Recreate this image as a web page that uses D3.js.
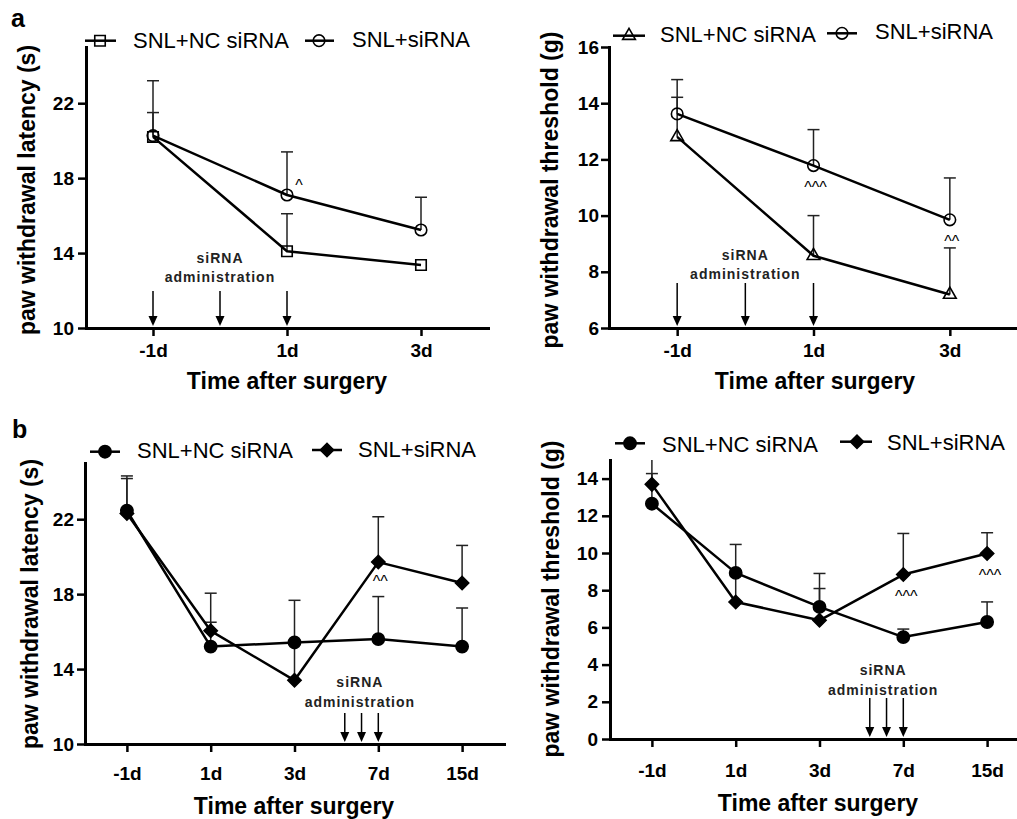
<!DOCTYPE html>
<html>
<head>
<meta charset="utf-8">
<script src="https://cdn.jsdelivr.net/npm/d3@7"></script>
<style>
body{margin:0;background:#fff;}
svg{display:block;font-family:Arial,"Liberation Sans",sans-serif;}
</style>
</head>
<body>
<div id="chart"></div>
<script>
// categories
var daysA = ["-1d", "1d", "3d"]
var daysB = ["-1d", "1d", "3d", "7d", "15d"]
var groupNames = ["SNL+NC siRNA", "SNL+siRNA"]

// a, latency (s)  -- *_top = upper end of the SEM bar
var latA_nc = [20.2, 14.1, 13.36]
var latA_nc_top = [21.5, 16.1, null]
var latA_si = [20.27, 17.1, 15.23]
var latA_si_top = [23.2, 19.4, 16.98]
var latA_sig = ["", "^", ""]

// a, threshold (g)
var thrA_nc = [12.8, 8.57, 7.19]
var thrA_nc_top = [14.21, 10.0, 8.85]
var thrA_si = [13.62, 11.78, 9.85]
var thrA_si_top = [14.84, 13.06, 11.34]
var thrA_sig = ["", "^^^", "^^"]

// b, latency (s)
var latB_nc = [22.45, 15.2, 15.42, 15.6, 15.2]
var latB_nc_top = [24.17, 16.5, null, 17.87, 17.26]
var latB_si = [22.3, 16.04, 13.4, 19.71, 18.59]
var latB_si_top = [24.31, 18.05, 17.67, 22.13, 20.6]
var latB_sig = ["", "", "", "^^", ""]

// b, threshold (g)
var thrB_nc = [12.65, 8.93, 7.1, 5.48, 6.29]
var thrB_nc_top = [14.27, null, 8.09, 5.91, 7.37]
var thrB_si = [13.69, 7.37, 6.38, 8.84, 9.97]
var thrB_si_top = [15.4, 10.46, 8.9, 11.05, 11.09]
var thrB_sig = ["", "", "", "^^^", "^^^"]

// axis ticks
var yTicksLat = [10, 14, 18, 22]
var yTicksThrA = [6, 8, 10, 12, 14, 16]
var yTicksThrB = [0, 2, 4, 6, 8, 10, 12, 14]

// siRNA injections, in category index units
var arrowsA = [0, 0.5, 1]
var arrowsB = [2.6, 2.8, 3]

var svg = d3.select("#chart")
  .append("svg")
  .attr("width", 1017)
  .attr("height", 819)

var panels = [
  {
    cats: daysA, xRange: [86, 488], yRange: [328, 47], yDomain: [10, 25], yTicks: yTicksLat,
    xPad: 8, yPad: 4,
    series: [
      {v: latA_nc, top: latA_nc_top, m: "square"},
      {v: latA_si, top: latA_si_top, m: "circle"}
    ],
    sig: latA_sig, sigDx: 12, sigDy: -4,
    arrows: arrowsA, arrowLen: 37, adminAt: 0.5, adminOff: [65, 46],
    yLabel: "paw withdrawal latency (s)", yLabelPos: [35, 190],
    titlePos: [287, 389],
    legend: [
      {x1: 85, x2: 116, mx: 100, my: 40.7, tx: 133, ty: 47.5},
      {x1: 305, x2: 334, mx: 319, my: 40.7, tx: 352, ty: 47}
    ]
  },
  {
    cats: daysA, xRange: [609, 1018], yRange: [328, 47], yDomain: [6, 16], yTicks: yTicksThrA,
    xPad: 8, yPad: 2,
    series: [
      {v: thrA_nc, top: thrA_nc_top, m: "triangle"},
      {v: thrA_si, top: thrA_si_top, m: "circle"}
    ],
    sig: thrA_sig, sigDx: 2, sigDy: 27,
    arrows: arrowsA, arrowLen: 45, adminAt: 0.5, adminOff: [68, 49],
    yLabel: "paw withdrawal threshold (g)", yLabelPos: [558, 190],
    titlePos: [815, 389],
    legend: [
      {x1: 613, x2: 645, mx: 629, my: 35.7, tx: 660, ty: 41.5},
      {x1: 827, x2: 857, mx: 842, my: 33.3, tx: 875, ty: 39.3}
    ]
  },
  {
    cats: daysB, xRange: [85, 504], yRange: [744, 463], yDomain: [10, 25], yTicks: yTicksLat,
    xPad: 15, yPad: 3,
    series: [
      {v: latB_nc, top: latB_nc_top, m: "dot"},
      {v: latB_si, top: latB_si_top, m: "diamond"}
    ],
    sig: latB_sig, sigDx: 2, sigDy: 25,
    arrows: arrowsB, arrowLen: 31, adminAt: 2.78, adminOff: [57, 37],
    yLabel: "paw withdrawal latency (s)", yLabelPos: [38, 604],
    titlePos: [294, 814],
    legend: [
      {x1: 90, x2: 120, mx: 105, my: 451.7, tx: 137, ty: 458},
      {x1: 312, x2: 342, mx: 327, my: 450, tx: 358, ty: 456.7}
    ]
  },
  {
    cats: daysB, xRange: [610, 1029], yRange: [739, 460], yDomain: [0, 15], yTicks: yTicksThrB,
    xPad: 17, yPad: 4,
    series: [
      {v: thrB_nc, top: thrB_nc_top, m: "dot"},
      {v: thrB_si, top: thrB_si_top, m: "diamond"}
    ],
    sig: thrB_sig, sigDx: 3, sigDy: 27,
    arrows: arrowsB, arrowLen: 41, adminAt: 2.76, adminOff: [64, 44.5],
    yLabel: "paw withdrawal threshold (g)", yLabelPos: [559, 599],
    titlePos: [818, 811],
    legend: [
      {x1: 615, x2: 645, mx: 630, my: 443.3, tx: 662, ty: 451.7},
      {x1: 840, x2: 872, mx: 857, my: 441.7, tx: 887, ty: 450}
    ]
  }
]

// draw one marker of a given kind at (cx, cy)
function drawMarker(g, kind, cx, cy){
  var p = g.append("path")
  if(kind == "square"){
    p.attr("d", d3.symbol(d3.symbolSquare, 110)).attr("fill", "none")
  }
  else if(kind == "circle"){
    p.attr("d", d3.symbol(d3.symbolCircle, 105)).attr("fill", "none")
  }
  else if(kind == "triangle"){
    p.attr("d", d3.symbol(d3.symbolTriangle, 70)).attr("fill", "none")
  }
  else if(kind == "dot"){
    p.attr("d", d3.symbol(d3.symbolCircle, 118)).attr("fill", "#000")
  }
  else if(kind == "diamond"){
    p.attr("d", d3.symbol(d3.symbolSquare, 88)).attr("fill", "#000")
  }
  p.attr("stroke", "#000")
    .attr("stroke-width", 1.6)
    .attr("transform", "translate(" + cx + "," + cy + ")" + (kind == "diamond" ? " rotate(45)" : ""))
}

function drawPanel(p){
  var g = svg.append("g")
  var x = d3.scalePoint()
    .domain(p.cats)
    .range(p.xRange)
    .padding(0.5)
  var n = p.cats.length
  var xi = d3.scaleLinear()
    .domain([0, n - 1])
    .range([x(p.cats[0]), x(p.cats[n - 1])])
  var y = d3.scaleLinear()
    .domain(p.yDomain)
    .range(p.yRange)
  var y0 = p.yRange[0]

  // axes
  var gx = g.append("g")
    .attr("transform", "translate(0," + y0 + ")")
    .call(d3.axisBottom(x).tickSize(8).tickSizeOuter(0).tickPadding(p.xPad))
  var gy = g.append("g")
    .attr("transform", "translate(" + p.xRange[0] + ",0)")
    .call(d3.axisLeft(y).tickValues(p.yTicks).tickSize(8).tickSizeOuter(0).tickPadding(p.yPad))
  ;[gx, gy].forEach(function(a){
    a.select(".domain").attr("stroke", "#000").attr("stroke-width", 3).attr("stroke-linecap", "square")
    a.selectAll(".tick line").attr("stroke", "#000").attr("stroke-width", 2.5)
    a.selectAll(".tick text")
      .attr("fill", "#000")
      .style("font-size", "19px")
      .style("font-weight", "bold")
      .style("font-family", "Arial, 'Liberation Sans', sans-serif")
  })

  // arrows for siRNA injections
  p.arrows.forEach(function(a){
    var ax = xi(a)
    g.append("line")
      .attr("x1", ax).attr("x2", ax)
      .attr("y1", y0 - p.arrowLen).attr("y2", y0 - 8)
      .attr("stroke", "#000").attr("stroke-width", 1.5)
    g.append("path")
      .attr("d", "M" + (ax - 4.5) + "," + (y0 - 12) + "L" + (ax + 4.5) + "," + (y0 - 12) + "L" + ax + "," + (y0 - 2) + "Z")
      .attr("fill", "#000")
  })
  var adm = g.append("g")
    .attr("text-anchor", "middle")
    .style("font-size", "14px")
    .style("font-weight", "bold")
    .style("letter-spacing", "1px")
    .attr("fill", "#222")
  adm.append("text").attr("x", xi(p.adminAt)).attr("y", y0 - p.adminOff[0]).text("siRNA")
  adm.append("text").attr("x", xi(p.adminAt)).attr("y", y0 - p.adminOff[1]).text("administration")

  var yMax = p.yDomain[1]

  // error bars (upper only)
  p.series.forEach(function(s){
    s.v.forEach(function(v, i){
      var t = s.top[i]
      if(t == null) return
      var cx = x(p.cats[i])
      g.append("line")
        .attr("x1", cx).attr("x2", cx)
        .attr("y1", y(v)).attr("y2", y(Math.min(t, yMax)))
        .attr("stroke", "#222").attr("stroke-width", 1.5)
      if(t <= yMax){
        g.append("line")
          .attr("x1", cx - 6).attr("x2", cx + 6)
          .attr("y1", y(t)).attr("y2", y(t))
          .attr("stroke", "#222").attr("stroke-width", 1.5)
      }
    })
  })

  // lines
  var line = d3.line()
    .x(function(d, i){ return x(p.cats[i]) })
    .y(function(d){ return y(d) })
  p.series.forEach(function(s){
    g.append("path")
      .datum(s.v)
      .attr("d", line)
      .attr("fill", "none")
      .attr("stroke", "#000")
      .attr("stroke-width", 2.5)
      .attr("stroke-linejoin", "round")
  })
  // markers
  p.series.forEach(function(s){
    s.v.forEach(function(v, i){
      drawMarker(g, s.m, x(p.cats[i]), y(v))
    })
  })

  // significance marks on the siRNA group
  p.sig.forEach(function(txt, i){
    if(txt == "") return
    g.append("text")
      .attr("x", x(p.cats[i]) + p.sigDx)
      .attr("y", y(p.series[1].v[i]) + p.sigDy)
      .attr("text-anchor", "middle")
      .style("font-size", "16px")
      .attr("fill", "#000")
      .text(txt)
  })

  // legend
  p.legend.forEach(function(l, k){
    g.append("line")
      .attr("x1", l.x1).attr("x2", l.x2)
      .attr("y1", l.my).attr("y2", l.my)
      .attr("stroke", "#000").attr("stroke-width", 2.5)
    drawMarker(g, p.series[k].m, l.mx, l.my)
    g.append("text")
      .attr("x", l.tx).attr("y", l.ty)
      .style("font-size", "22px")
      .attr("fill", "#000")
      .text(groupNames[k])
  })

  // axis titles
  g.append("text")
    .attr("transform", "translate(" + p.yLabelPos[0] + "," + p.yLabelPos[1] + ") rotate(-90)")
    .attr("text-anchor", "middle")
    .style("font-size", "23px")
    .style("font-weight", "bold")
    .text(p.yLabel)
  g.append("text")
    .attr("x", p.titlePos[0]).attr("y", p.titlePos[1])
    .attr("text-anchor", "middle")
    .style("font-size", "23px")
    .style("font-weight", "bold")
    .text("Time after surgery")
}

panels.forEach(drawPanel)

// panel letters
svg.append("text").attr("x", 11).attr("y", 27)
  .style("font-size", "25px").style("font-weight", "bold").text("a")
svg.append("text").attr("x", 12).attr("y", 438)
  .style("font-size", "25px").style("font-weight", "bold").text("b")
</script>
</body>
</html>
